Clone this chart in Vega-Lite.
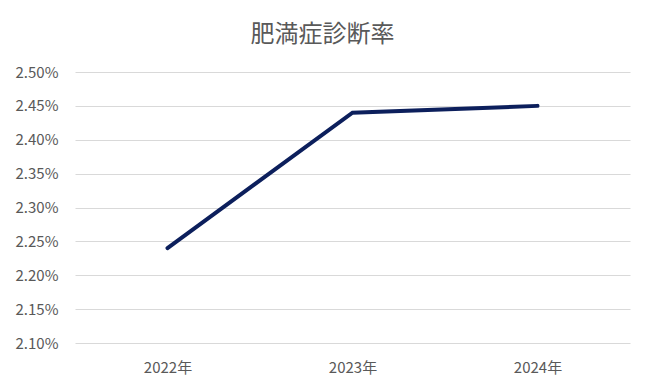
{
  "$schema": "https://vega.github.io/schema/vega-lite/v6.json",
  "autosize": "none",
  "width": 555,
  "height": 271,
  "padding": {"left": 75, "top": 72, "right": 20, "bottom": 48},
  "background": "white",
  "title": {
    "text": "肥満症診断率",
    "fontSize": 24,
    "font": "Noto Sans CJK JP",
    "fontWeight": "normal",
    "color": "#595959",
    "anchor": "middle",
    "frame": "bounds",
    "offset": 18
  },
  "data": {
    "values": [
      {"year": "2022年", "rate": 0.0224},
      {"year": "2023年", "rate": 0.0244},
      {"year": "2024年", "rate": 0.0245}
    ]
  },
  "mark": {"type": "line", "color": "#0c1f5c", "strokeWidth": 4, "strokeCap": "round"},
  "encoding": {
    "x": {
      "field": "year",
      "type": "ordinal",
      "scale": {"type": "point", "padding": 0.5},
      "axis": {
        "title": null,
        "labelAngle": 0,
        "domain": false,
        "ticks": false,
        "grid": false,
        "labelPadding": 17,
        "labelFontSize": 15,
        "labelColor": "#595959",
        "labelFont": "Noto Sans CJK JP"
      }
    },
    "y": {
      "field": "rate",
      "type": "quantitative",
      "scale": {"domain": [0.021, 0.025], "zero": false, "nice": false},
      "axis": {
        "title": null,
        "format": ".2%",
        "values": [0.021, 0.0215, 0.022, 0.0225, 0.023, 0.0235, 0.024, 0.0245, 0.025],
        "domain": false,
        "ticks": false,
        "grid": true,
        "gridColor": "#d9d9d9",
        "gridWidth": 1,
        "labelPadding": 17,
        "labelFontSize": 15,
        "labelColor": "#595959",
        "labelFont": "Noto Sans CJK JP"
      }
    }
  },
  "config": {"view": {"stroke": null}}
}
